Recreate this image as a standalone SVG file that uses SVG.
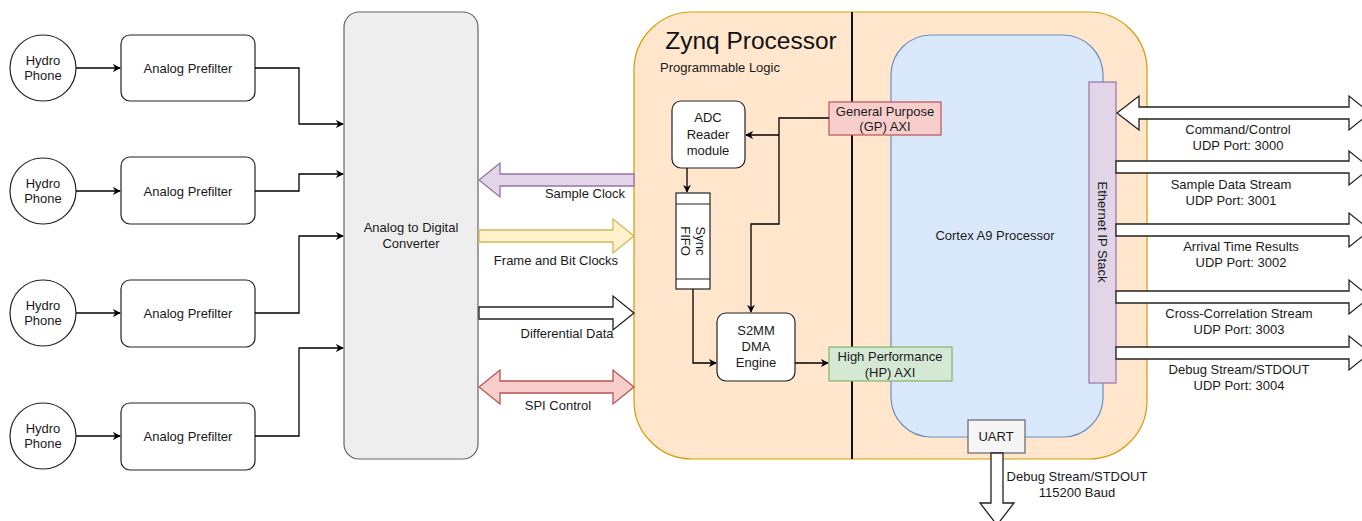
<svg xmlns="http://www.w3.org/2000/svg" width="1362" height="521" viewBox="0 0 1362 521">
<defs>
<style>
text{font-family:"Liberation Sans",Arial,sans-serif;font-size:13px;fill:#1a1a1a;text-anchor:middle}
.box{fill:#fff;stroke:#222;stroke-width:1.2}
.ln{fill:none;stroke:#000;stroke-width:1.3}
.fat{stroke-width:1.3;stroke-linejoin:miter}
</style>
<marker id="ah" viewBox="0 0 10 10" refX="9" refY="5" markerWidth="8" markerHeight="8" markerUnits="userSpaceOnUse" orient="auto"><path d="M0,0 L10,5 L0,10 L3,5 Z" fill="#000"/></marker>
</defs>
<rect width="1362" height="521" fill="#fff"/>

<g id="zynq">
<rect x="634" y="12" width="513" height="447" rx="58" fill="#ffe6cc" stroke="#d79b00" stroke-width="1.2"/>
<text x="751" y="49" style="font-size:24.5px;fill:#111">Zynq Processor</text>
<text x="720" y="72">Programmable Logic</text>
<line x1="852" y1="12" x2="852" y2="459" stroke="#111" stroke-width="2"/>
</g>
<g id="cortex">
<rect x="891" y="35" width="212" height="402" rx="40" fill="#dae8fc" stroke="#6c8ebf" stroke-width="1.2"/>
<text x="995" y="240">Cortex A9 Processor</text>
</g>

<g id="hydro1"><circle cx="43" cy="68" r="33" class="box"/><text x="43" y="65">Hydro</text><text x="43" y="80">Phone</text></g>
<g id="hydro2"><circle cx="43" cy="191" r="33" class="box"/><text x="43" y="188">Hydro</text><text x="43" y="203">Phone</text></g>
<g id="hydro3"><circle cx="43" cy="313" r="33" class="box"/><text x="43" y="310">Hydro</text><text x="43" y="325">Phone</text></g>
<g id="hydro4"><circle cx="43" cy="436" r="33" class="box"/><text x="43" y="433">Hydro</text><text x="43" y="448">Phone</text></g>

<g id="prefilter1"><rect x="121" y="35" width="134" height="66" rx="9" class="box"/><text x="188" y="73">Analog Prefilter</text></g>
<g id="prefilter2"><rect x="121" y="157" width="134" height="67" rx="9" class="box"/><text x="188" y="196">Analog Prefilter</text></g>
<g id="prefilter3"><rect x="121" y="280" width="134" height="67" rx="9" class="box"/><text x="188" y="318">Analog Prefilter</text></g>
<g id="prefilter4"><rect x="121" y="403" width="134" height="67" rx="9" class="box"/><text x="188" y="441">Analog Prefilter</text></g>

<g id="adc">
<rect x="344" y="12" width="134" height="447" rx="15" fill="#eeeeee" stroke="#666" stroke-width="1.2"/>
<text x="411" y="232">Analog to Digital</text>
<text x="411" y="248">Converter</text>
</g>

<g id="adcreader"><rect x="672" y="101" width="73" height="67" rx="9" class="box"/><text x="708" y="122">ADC</text><text x="708" y="139">Reader</text><text x="708" y="155">module</text></g>
<g id="fifo">
<rect x="676" y="193" width="34" height="96" class="box"/>
<line x1="676" y1="204" x2="710" y2="204" stroke="#222" stroke-width="1.2"/>
<line x1="676" y1="279" x2="710" y2="279" stroke="#222" stroke-width="1.2"/>
<text transform="translate(693,241) rotate(90)"><tspan x="0" y="-3">Sync</tspan><tspan x="0" y="12">FIFO</tspan></text>
</g>
<g id="s2mm"><rect x="717" y="313" width="78" height="68" rx="9" class="box"/><text x="756" y="335">S2MM</text><text x="756" y="351">DMA</text><text x="756" y="367">Engine</text></g>
<g id="gpaxi"><rect x="829" y="102" width="112" height="33" fill="#f8cecc" stroke="#b85450" stroke-width="1.2"/><text x="885" y="116">General Purpose</text><text x="885" y="131">(GP) AXI</text></g>
<g id="hpaxi"><rect x="829" y="347" width="123" height="34" fill="#d5e8d4" stroke="#82b366" stroke-width="1.2"/><text x="890" y="361">High Performance</text><text x="890" y="377">(HP) AXI</text></g>
<g id="ethernet"><rect x="1089" y="82" width="27" height="301" fill="#e1d5e7" stroke="#9673a6" stroke-width="1.2"/><text transform="translate(1102,232) rotate(90)" y="4">Ethernet IP Stack</text></g>
<g id="uart"><rect x="968" y="420" width="57" height="33" fill="#f5f5f5" stroke="#666" stroke-width="1.2"/><text x="996" y="441">UART</text></g>

<g id="connectors">
<line x1="76" y1="68" x2="120" y2="68" class="ln" marker-end="url(#ah)"/>
<line x1="76" y1="191" x2="120" y2="191" class="ln" marker-end="url(#ah)"/>
<line x1="76" y1="313" x2="120" y2="313" class="ln" marker-end="url(#ah)"/>
<line x1="76" y1="436" x2="120" y2="436" class="ln" marker-end="url(#ah)"/>
<polyline points="255,68 299,68 299,124 343,124" class="ln" marker-end="url(#ah)"/>
<polyline points="255,191 299,191 299,174 343,174" class="ln" marker-end="url(#ah)"/>
<polyline points="255,313 299,313 299,236 343,236" class="ln" marker-end="url(#ah)"/>
<polyline points="255,436 299,436 299,348 343,348" class="ln" marker-end="url(#ah)"/>

<polyline points="829,118 779,118 779,224 751,224 751,312" class="ln" marker-end="url(#ah)"/>
<line x1="779" y1="135" x2="746" y2="135" class="ln" marker-end="url(#ah)"/>
<line x1="687" y1="168" x2="687" y2="192" class="ln" marker-end="url(#ah)"/>
<polyline points="693,289 693,363 716,363" class="ln" marker-end="url(#ah)"/>
<line x1="795" y1="363" x2="828" y2="363" class="ln" marker-end="url(#ah)"/>

<polygon class="fat" fill="#e1d5e7" stroke="#9673a6" points="479,180 500,163 500,174 634,174 634,186 500,186 500,197"/>
<text x="585" y="198">Sample Clock</text>
<polygon class="fat" fill="#fff2cc" stroke="#d6b656" points="479,230 613,230 613,219 634,236 613,253 613,242 479,242"/>
<text x="556" y="265">Frame and Bit Clocks</text>
<polygon class="fat" fill="#fff" stroke="#222" points="479,307 613,307 613,296 634,313 613,330 613,319 479,319"/>
<text x="567" y="338">Differential Data</text>
<polygon class="fat" fill="#f8cecc" stroke="#b85450" points="479,387 500,370 500,381 613,381 613,370 634,387 613,404 613,393 500,393 500,404"/>
<text x="558" y="410">SPI Control</text>

<polygon class="fat" fill="#fff" stroke="#222" points="1117,113 1139,96 1139,107 1349,107 1349,96 1370,113 1349,130 1349,119 1139,119 1139,130"/>
<text x="1238" y="134">Command/Control</text><text x="1238" y="150">UDP Port: 3000</text>
<polygon class="fat" fill="#fff" stroke="#222" points="1116,161 1349,161 1349,151 1370,168 1349,185 1349,173 1116,173"/>
<text x="1231" y="189">Sample Data Stream</text><text x="1231" y="205">UDP Port: 3001</text>
<polygon class="fat" fill="#fff" stroke="#222" points="1116,224 1349,224 1349,213 1370,230 1349,247 1349,236 1116,236"/>
<text x="1241" y="251">Arrival Time Results</text><text x="1241" y="267">UDP Port: 3002</text>
<polygon class="fat" fill="#fff" stroke="#222" points="1116,291 1349,291 1349,280 1370,297 1349,314 1349,303 1116,303"/>
<text x="1239" y="318">Cross-Correlation Stream</text><text x="1239" y="334">UDP Port: 3003</text>
<polygon class="fat" fill="#fff" stroke="#222" points="1116,347 1349,347 1349,336 1370,353 1349,370 1349,359 1116,359"/>
<text x="1239" y="374">Debug Stream/STDOUT</text><text x="1239" y="390">UDP Port: 3004</text>

<polygon class="fat" fill="#fff" stroke="#222" points="991,453 1003,453 1003,503 1014,503 997,525 980,503 991,503"/>
<text x="1077" y="481">Debug Stream/STDOUT</text><text x="1077" y="497">115200 Baud</text>
</g>
</svg>
